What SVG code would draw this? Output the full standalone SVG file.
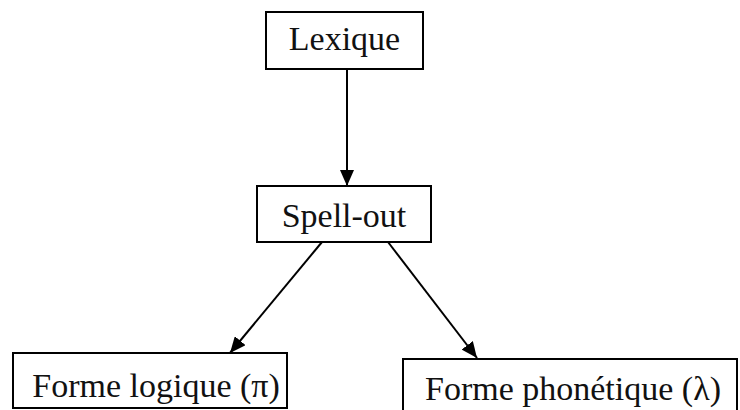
<svg xmlns="http://www.w3.org/2000/svg" width="740" height="410" viewBox="0 0 740 410">
<style>
.box{fill:#fff;stroke:#000;stroke-width:2}
.t{font-family:"Liberation Serif","Times New Roman",serif;font-size:34px;fill:#111}
.c{stroke:#000;stroke-width:2;fill:none;marker-end:url(#ah)}
</style>
<defs>
<marker id="ah" viewBox="0 0 16 14" refX="16" refY="7" markerWidth="16" markerHeight="14" markerUnits="userSpaceOnUse" orient="auto">
<path d="M0,0 L16,7 L0,14 Z" fill="#000"/>
</marker>
</defs>
<rect width="740" height="410" fill="#fff"/>
<g id="connectors">
<line class="c" x1="347" y1="69" x2="347" y2="186"/>
<line class="c" x1="322" y1="242" x2="230" y2="353"/>
<line class="c" x1="388" y1="242" x2="477" y2="358"/>
</g>
<g id="lexique">
<rect class="box" x="266" y="12" width="157" height="57"/>
<text class="t" x="344.5" y="50" text-anchor="middle">Lexique</text>
</g>
<g id="spellout">
<rect class="box" x="257" y="186" width="174" height="56"/>
<text class="t" x="344" y="227" text-anchor="middle">Spell-out</text>
</g>
<g id="forme-logique">
<rect class="box" x="13" y="353" width="274" height="55"/>
<text class="t" x="156" y="397" text-anchor="middle">Forme logique (π)</text>
</g>
<g id="forme-phonetique">
<rect class="box" x="403" y="359" width="334" height="60"/>
<text class="t" x="573" y="400" text-anchor="middle">Forme phonétique (λ)</text>
</g>
</svg>
